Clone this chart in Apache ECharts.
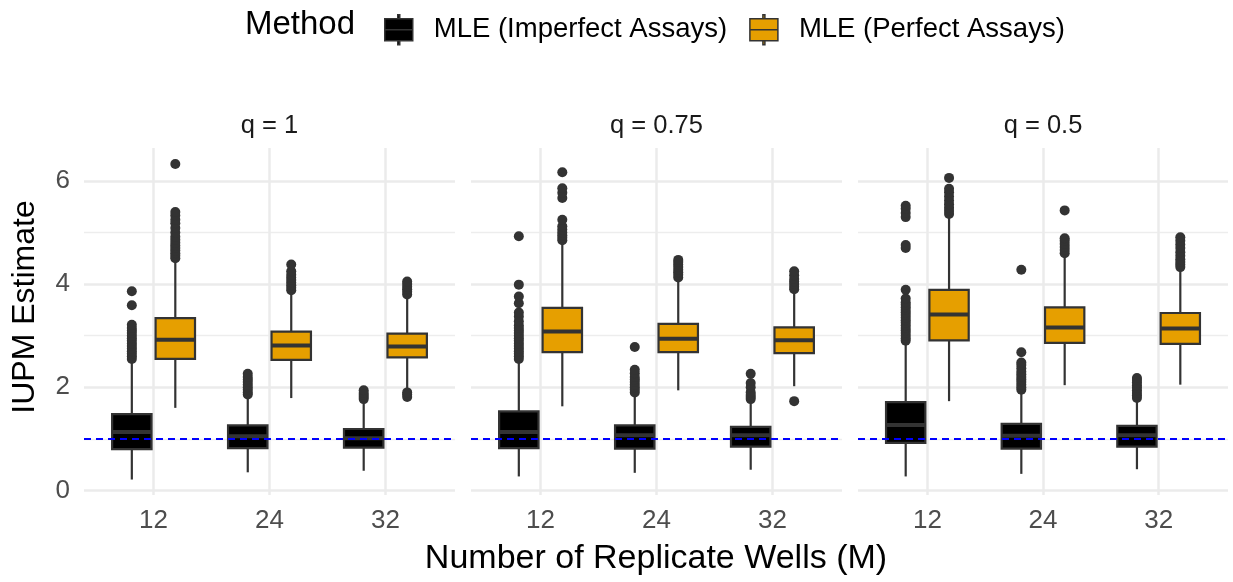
<!DOCTYPE html>
<html>
<head>
<meta charset="utf-8">
<script src="https://cdn.jsdelivr.net/npm/echarts@6/dist/echarts.min.js"></script>
<style>
  html, body { margin: 0; padding: 0; background: #fff; }
  #chart { width: 1233px; height: 582px; }
</style>
</head>
<body>
<div id="chart"></div>
<script>
var categories = ['12', '24', '32'];
var facets = ['q = 1', 'q = 0.75', 'q = 0.5'];
var methods = ['MLE (Imperfect Assays)', 'MLE (Perfect Assays)'];
var methodColors = ['#000000', '#E69F00'];

// box stats per M: [lower whisker, Q1, median, Q3, upper whisker]
var imperfectQ1 = [[0.21, 0.80, 1.13, 1.48, 2.50], [0.35, 0.82, 1.05, 1.26, 1.82], [0.38, 0.83, 1.01, 1.19, 1.73]];
var perfectQ1 = [[1.60, 2.55, 2.92, 3.34, 4.44], [1.79, 2.53, 2.81, 3.08, 3.83], [1.98, 2.58, 2.79, 3.04, 3.76]];
var imperfectQ075 = [[0.27, 0.82, 1.13, 1.53, 2.50], [0.34, 0.81, 1.07, 1.26, 1.86], [0.40, 0.85, 1.07, 1.23, 1.73]];
var perfectQ075 = [[1.63, 2.68, 3.08, 3.54, 4.80], [1.94, 2.68, 2.94, 3.23, 4.09], [2.02, 2.66, 2.91, 3.16, 3.86]];
var imperfectQ05 = [[0.27, 0.92, 1.27, 1.71, 2.83], [0.32, 0.81, 1.06, 1.29, 1.91], [0.41, 0.85, 1.07, 1.25, 1.75]];
var perfectQ05 = [[1.73, 2.91, 3.41, 3.89, 5.31], [2.04, 2.86, 3.16, 3.55, 4.54], [2.05, 2.84, 3.14, 3.44, 4.28]];

// outliers per M
var imperfectOutQ1 = [
  [2.55, 2.6, 2.65, 2.7, 2.75, 2.8, 2.85, 2.9, 2.95, 3.0, 3.05, 3.1, 3.15, 3.21, 3.59, 3.86],
  [1.86, 1.9, 1.95, 2.0, 2.05, 2.1, 2.15, 2.2, 2.26],
  [1.77, 1.81, 1.85, 1.89, 1.94]
];
var perfectOutQ1 = [
  [4.5, 4.55, 4.6, 4.65, 4.7, 4.75, 4.8, 4.86, 4.92, 5.0, 5.09, 5.18, 5.25, 5.33, 5.40, 6.33],
  [3.88, 3.93, 3.98, 4.03, 4.08, 4.13, 4.18, 4.25, 4.38],
  [1.81, 1.86, 1.90, 3.8, 3.85, 3.9, 3.95, 4.0, 4.05]
];
var imperfectOutQ075 = [
  [2.55, 2.6, 2.65, 2.7, 2.75, 2.8, 2.85, 2.9, 2.95, 3.0, 3.05, 3.1, 3.15, 3.2, 3.28, 3.37, 3.45, 3.63, 3.76, 3.99, 4.93],
  [1.9, 1.95, 2.0, 2.05, 2.1, 2.15, 2.2, 2.27, 2.34, 2.78],
  [1.77, 1.81, 1.85, 1.9, 2.0, 2.08, 2.26]
];
var perfectOutQ075 = [
  [4.85, 4.9, 4.95, 5.0, 5.06, 5.12, 5.25, 5.67, 5.77, 5.86, 6.17],
  [4.13, 4.18, 4.23, 4.28, 4.33, 4.38, 4.43, 4.47],
  [1.73, 3.9, 3.95, 4.0, 4.05, 4.1, 4.17, 4.25]
];
var imperfectOutQ05 = [
  [2.9, 2.95, 3.0, 3.05, 3.1, 3.15, 3.2, 3.25, 3.3, 3.35, 3.4, 3.45, 3.5, 3.55, 3.6, 3.65, 3.72, 3.89, 4.7, 4.76, 5.3, 5.38, 5.46, 5.52],
  [1.95, 2.0, 2.05, 2.1, 2.15, 2.2, 2.25, 2.3, 2.37, 2.43, 2.48, 2.68, 4.28],
  [1.79, 1.84, 1.89, 1.94, 1.99, 2.04, 2.09, 2.14, 2.18]
];
var perfectOutQ05 = [
  [5.36, 5.42, 5.48, 5.55, 5.62, 5.7, 5.78, 5.85, 6.06],
  [4.6, 4.66, 4.72, 4.78, 4.84, 4.89, 5.43],
  [4.33, 4.38, 4.43, 4.48, 4.55, 4.62, 4.7, 4.77, 4.84, 4.91]
];

var trueIUPM = 1;
var yMajor = [0, 2, 4, 6];
var yMinor = [1, 3, 5];

var boxStats = [[imperfectQ1, perfectQ1], [imperfectQ075, perfectQ075], [imperfectQ05, perfectQ05]];
var outStats = [[imperfectOutQ1, perfectOutQ1], [imperfectOutQ075, perfectOutQ075], [imperfectOutQ05, perfectOutQ05]];

var FONT = 'Liberation Sans';
var dodge = [-0.1875, 0.1875];
var BOX_HALF = 0.17;
var gridLefts = [84, 471, 858];
var gridWidths = [371, 371, 370];

function renderBox(params, api) {
  var x = api.value(0);
  var lo = api.coord([x, api.value(1)]);
  var q1 = api.coord([x, api.value(2)]);
  var md = api.coord([x, api.value(3)]);
  var q3 = api.coord([x, api.value(4)]);
  var hi = api.coord([x, api.value(5)]);
  var half = api.size([BOX_HALF, 0])[0];
  var cx = lo[0];
  var fill = api.visual('color');
  var edge = { stroke: '#333333', lineWidth: 2.2 };
  return {
    type: 'group',
    children: [
      { type: 'line', shape: { x1: cx, y1: q3[1], x2: cx, y2: hi[1] }, style: edge },
      { type: 'line', shape: { x1: cx, y1: q1[1], x2: cx, y2: lo[1] }, style: edge },
      { type: 'rect', shape: { x: cx - half, y: q3[1], width: half * 2, height: q1[1] - q3[1] },
        style: { fill: fill, stroke: '#333333', lineWidth: 2.2 } },
      { type: 'line', shape: { x1: cx - half, y1: md[1], x2: cx + half, y2: md[1] },
        style: { stroke: '#333333', lineWidth: 4 } }
    ]
  };
}

var grids = [], xAxes = [], yAxes = [], series = [], graphics = [];

for (var f = 0; f < facets.length; f++) {
  grids.push({ left: gridLefts[f], top: 148, width: gridWidths[f], height: 347 });
  xAxes.push({
    type: 'value', gridIndex: f, min: 0.4, max: 3.6,
    axisLine: { show: false },
    axisTick: { show: false, customValues: [1, 2, 3] },
    axisLabel: {
      customValues: [1, 2, 3], margin: 13,
      fontFamily: FONT, fontSize: 26, color: '#4d4d4d',
      formatter: function (v) { return categories[Math.round(v) - 1]; }
    },
    splitLine: { show: true, lineStyle: { color: '#ebebeb', width: 2.5 } }
  });
  // major y gridlines + labels
  yAxes.push({
    type: 'value', gridIndex: f, min: -0.09, max: 6.64,
    axisLine: { show: false },
    axisTick: { show: false, customValues: yMajor },
    axisLabel: {
      show: f === 0, customValues: yMajor, margin: 14,
      fontFamily: FONT, fontSize: 26, color: '#4d4d4d'
    },
    splitLine: { show: true, lineStyle: { color: '#ebebeb', width: 2.5 } }
  });
  // minor y gridlines
  yAxes.push({
    type: 'value', gridIndex: f, min: -0.09, max: 6.64,
    axisLine: { show: false },
    axisTick: { show: false, customValues: yMinor },
    axisLabel: { show: false },
    splitLine: { show: true, lineStyle: { color: '#ededed', width: 1.4 } }
  });

  for (var m = 0; m < methods.length; m++) {
    var boxes = boxStats[f][m].map(function (s, i) {
      return [i + 1 + dodge[m]].concat(s);
    });
    series.push({
      name: methods[m], type: 'custom',
      xAxisIndex: f, yAxisIndex: f * 2,
      itemStyle: { color: methodColors[m] },
      encode: { x: 0, y: [1, 2, 3, 4, 5] },
      renderItem: renderBox,
      data: boxes, z: 3
    });
    var pts = [];
    outStats[f][m].forEach(function (vals, i) {
      vals.forEach(function (v) { pts.push([i + 1 + dodge[m], v]); });
    });
    var sc = {
      name: methods[m], type: 'scatter',
      xAxisIndex: f, yAxisIndex: f * 2,
      symbolSize: 10, itemStyle: { color: '#333333', opacity: 1 },
      data: pts, z: 4, silent: true
    };
    if (m === 1) {
      sc.markLine = {
        silent: true, symbol: 'none', label: { show: false },
        lineStyle: { color: '#0000ff', type: [7, 5], width: 2 },
        data: [{ yAxis: trueIUPM }]
      };
    }
    series.push(sc);
  }

  graphics.push({
    type: 'text', x: gridLefts[f] + gridWidths[f] / 2, y: 126,
    style: { text: facets[f], fontFamily: FONT, fontSize: 25.5, fill: '#1a1a1a',
      textAlign: 'center', textVerticalAlign: 'middle' }
  });
}

graphics.push({
  type: 'text', x: 656, y: 559,
  style: { text: 'Number of Replicate Wells (M)', fontFamily: FONT, fontSize: 34, fill: '#000',
    textAlign: 'center', textVerticalAlign: 'middle' }
});
graphics.push({
  type: 'text', x: 25, y: 307, rotation: Math.PI / 2,
  style: { text: 'IUPM Estimate', fontFamily: FONT, fontSize: 32, fill: '#000',
    textAlign: 'center', textVerticalAlign: 'middle' }
});
graphics.push({
  type: 'text', x: 245, y: 25,
  style: { text: 'Method', fontFamily: FONT, fontSize: 33, fill: '#000',
    textAlign: 'left', textVerticalAlign: 'middle' }
});

// legend key: whisker stubs, two half-boxes (shared edge reads as median)
var keyIcon = 'path://M13,0 L15,0 L15,4 L13,4 Z M0,4 L28,4 L28,15 L0,15 Z M0,15 L28,15 L28,26 L0,26 Z M13,26 L15,26 L15,30 L13,30 Z';

var option = {
  animation: false,
  backgroundColor: '#fff',
  legend: {
    data: methods, left: 379, top: 9,
    itemWidth: 28, itemHeight: 30, itemGap: 22,
    icon: keyIcon,
    itemStyle: { borderColor: '#333333', borderWidth: 1.5 },
    textStyle: { fontFamily: FONT, fontSize: 27.5, color: '#000', padding: [0, 0, 0, 16] }
  },
  grid: grids,
  xAxis: xAxes,
  yAxis: yAxes,
  series: series,
  graphic: graphics
};

var myChart = echarts.init(document.getElementById('chart'));
myChart.setOption(option);
</script>
</body>
</html>
